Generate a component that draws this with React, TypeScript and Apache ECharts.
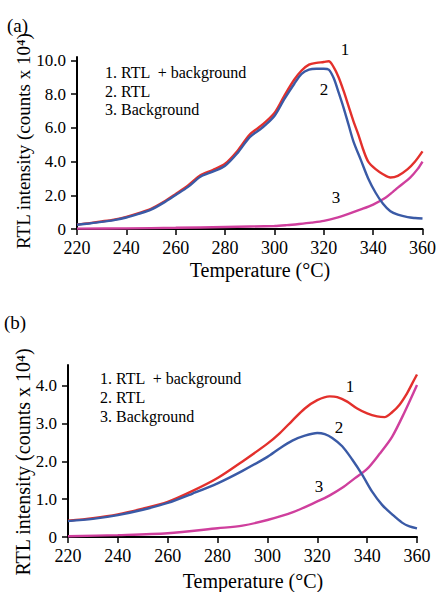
import React, { useEffect, useRef } from "react";
import * as echarts from "echarts";

// ---- Panel (a) ----
const aTempRtl = [220,225,230,235,240,245,250,255,260,265,270,275,280,285,290,295,300,304,308,311,314,317,320,322,324,326,328,330,332,335,338,341,344,347,350,354,357,360];
const aValRtl = [0.25,0.33,0.42,0.53,0.68,0.9,1.15,1.55,2.02,2.5,3.1,3.4,3.75,4.5,5.45,6.0,6.7,7.7,8.6,9.2,9.45,9.5,9.5,9.45,8.95,8.1,7.2,6.2,5.2,4.1,3.0,2.15,1.5,1.05,0.85,0.7,0.65,0.62];
const aTempSum = [220,225,230,235,240,245,250,255,260,265,270,275,280,285,290,295,300,304,308,311,314,317,320,322,324,326,328,330,332,334,336,338,341,344,347,350,354,357,360];
const aValSum = [0.27,0.35,0.45,0.56,0.72,0.94,1.2,1.6,2.08,2.58,3.18,3.5,3.87,4.63,5.6,6.17,6.88,7.9,8.85,9.4,9.75,9.85,9.9,9.95,9.6,9.0,8.2,7.3,6.4,5.6,4.7,4.0,3.55,3.25,3.05,3.15,3.55,4.0,4.6];
const aTempBg = [220,240,260,280,300,305,310,315,320,325,330,335,340,345,348,350,355,358,360];
const aValBg = [0.02,0.04,0.07,0.12,0.18,0.23,0.3,0.38,0.48,0.66,0.9,1.16,1.45,1.85,2.2,2.45,3.05,3.55,4.0];

// ---- Panel (b) ----
const bTempRtl = [220,230,240,250,260,270,280,290,300,305,310,315,320,323,326,330,334,338,342,346,350,354,357,360];
const bValRtl = [0.42,0.48,0.58,0.72,0.9,1.15,1.42,1.75,2.12,2.35,2.55,2.68,2.75,2.72,2.62,2.4,2.05,1.65,1.2,0.85,0.6,0.38,0.28,0.23];
const bTempSum = [220,230,240,250,260,270,280,290,300,305,310,315,320,325,328,332,336,340,344,347,350,353,356,358,360];
const bValSum = [0.43,0.5,0.6,0.75,0.93,1.22,1.56,2.0,2.47,2.75,3.08,3.4,3.62,3.72,3.7,3.58,3.4,3.27,3.19,3.17,3.3,3.5,3.8,4.05,4.3];
const bTempBg = [220,240,260,280,290,300,310,320,325,330,335,340,345,350,355,360];
const bValBg = [0.02,0.05,0.1,0.23,0.3,0.45,0.65,0.94,1.1,1.3,1.55,1.8,2.2,2.65,3.3,4.02];

const aYTicks = [0,2,4,6,8,10];
const bYTicks = [0,1,2,3,4];
const legendLines = ["1. RTL  + background", "2. RTL", "3. Background"];

const RED = "#e3302c";
const BLUE = "#3a5aa6";
const PINK = "#cf3f9d";
const FONT = "Liberation Serif";

const zip = (t: number[], v: number[]) => t.map((x, i) => [x, v[i]]);

export default function App() {
  const ref = useRef<HTMLDivElement>(null);
  useEffect(() => {
    if (!ref.current) return;
    const chart = echarts.init(ref.current, undefined, { renderer: "svg" });
    const xAxisBase = (gridIndex: number) => ({
      type: "value",
      gridIndex,
      min: 220,
      max: 360,
      interval: 20,
      axisLine: { show: true, lineStyle: { color: "#000", width: 2 } },
      axisTick: { show: true, length: 6, lineStyle: { color: "#000", width: 1.5 } },
      axisLabel: { color: "#000", fontFamily: FONT, fontSize: 18, margin: 10 },
      splitLine: { show: false },
    });
    const yAxisBase = (gridIndex: number, max: number, ticks: number[]) => ({
      type: "value",
      gridIndex,
      min: 0,
      max,
      axisLine: { show: true, lineStyle: { color: "#000", width: 2 } },
      axisTick: { show: true, length: 6, customValues: ticks, lineStyle: { color: "#000", width: 1.5 } },
      axisLabel: {
        color: "#000",
        fontFamily: FONT,
        fontSize: 17,
        margin: 11,
        customValues: ticks,
        formatter: (v: number) => (v === 0 ? "0" : v.toFixed(1)),
      },
      splitLine: { show: false },
    });
    const line = (data: number[][], color: string, idx: number) => ({
      type: "line",
      xAxisIndex: idx,
      yAxisIndex: idx,
      data,
      showSymbol: false,
      smooth: 0.3,
      lineStyle: { color, width: 2.4 },
      itemStyle: { color },
      silent: true,
    });
    const txt = (text: string, x: number, y: number, size: number, align = "left", rotation = 0) => ({
      type: "text",
      x,
      y,
      rotation,
      style: {
        text,
        fontFamily: FONT,
        fontSize: size,
        fill: "#000",
        textAlign: align,
        textVerticalAlign: "middle",
      },
    });
    chart.setOption({
      animation: false,
      backgroundColor: "#fff",
      grid: [
        { left: 77, right: 13, top: 57, height: 172 },
        { left: 68, right: 22, top: 365, height: 172 },
      ],
      xAxis: [xAxisBase(0), xAxisBase(1)],
      yAxis: [yAxisBase(0, 10.2, aYTicks), yAxisBase(1, 4.55, bYTicks)],
      series: [
        line(zip(aTempBg, aValBg), PINK, 0),
        line(zip(aTempSum, aValSum), RED, 0),
        line(zip(aTempRtl, aValRtl), BLUE, 0),
        line(zip(bTempBg, bValBg), PINK, 1),
        line(zip(bTempSum, bValSum), RED, 1),
        line(zip(bTempRtl, bValRtl), BLUE, 1),
      ],
      graphic: [
        txt("(a)", 7, 25, 19),
        txt("(b)", 4, 322, 19),
        txt("RTL intensity (counts x 10⁴)", 23, 141, 19, "center", Math.PI / 2),
        txt("RTL intensity (counts x 10⁴)", 23, 462, 20, "center", Math.PI / 2),
        txt("Temperature (°C)", 260, 270, 20, "center"),
        txt("Temperature (°C)", 253, 581, 20, "center"),
        txt(legendLines[0], 105, 72, 16),
        txt(legendLines[1], 105, 91, 16),
        txt(legendLines[2], 105, 109, 16),
        txt(legendLines[0], 100, 378, 16),
        txt(legendLines[1], 100, 397, 16),
        txt(legendLines[2], 100, 416, 16),
        txt("1", 345, 49, 17, "center"),
        txt("2", 324, 89, 17, "center"),
        txt("3", 336, 197, 17, "center"),
        txt("1", 350, 386, 17, "center"),
        txt("2", 339, 427, 17, "center"),
        txt("3", 319, 486, 17, "center"),
      ],
    });
    return () => chart.dispose();
  }, []);
  return (
    <div
      ref={ref}
      style={{ position: "fixed", left: 0, top: 0, width: 439, height: 592, background: "#fff" }}
    />
  );
}
